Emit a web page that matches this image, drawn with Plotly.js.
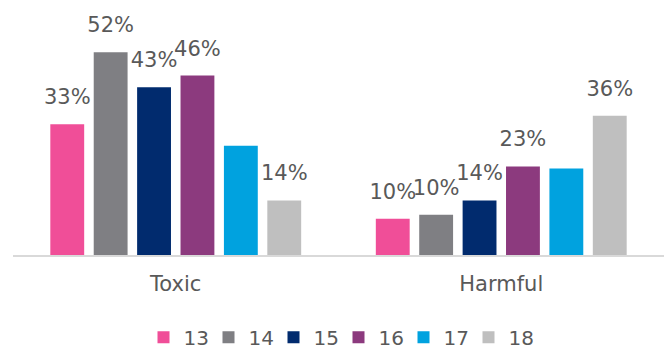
<!DOCTYPE html>
<html>
<head>
<meta charset="utf-8">
<script src="https://cdn.plot.ly/plotly-3.0.1.min.js"></script>
<style>html,body{margin:0;padding:0;background:#fff;}#chart{width:667px;height:349px;}</style>
</head>
<body>
<div id="chart"></div>
<script>
const categories = ["Toxic", "Harmful"];
const seriesNames = ["13", "14", "15", "16", "17", "18"];
const seriesColors = ["#F04E98", "#7F7F83", "#012B6E", "#8C3A7E", "#00A2DF", "#BFBFBF"];
const values13 = [33.5, 9.3];
const values14 = [52, 10.3];
const values15 = [43, 14];
const values16 = [46, 22.7];
const values17 = [28, 22.2];
const values18 = [14, 35.7];
const labels13 = ["33%", "10%"];
const labels14 = ["52%", "10%"];
const labels15 = ["43%", "14%"];
const labels16 = ["46%", "23%"];
const labels17 = ["", ""];
const labels18 = ["14%", "36%"];

const allValues = [values13, values14, values15, values16, values17, values18];
const allLabels = [labels13, labels14, labels15, labels16, labels17, labels18];
const textColor = "#595959";
const fontFam = "DejaVu Sans, Verdana, sans-serif";

const traces = [];
allValues.forEach((vals, i) => {
  traces.push({
    type: "bar",
    x: categories,
    y: vals,
    name: seriesNames[i],
    offsetgroup: String(i),
    marker: {color: seriesColors[i]},
    hoverinfo: "skip"
  });
});
allValues.forEach((vals, i) => {
  traces.push({
    type: "scatter",
    mode: "markers+text",
    x: categories,
    y: vals,
    offsetgroup: String(i),
    text: allLabels[i],
    textposition: "top center",
    textfont: {family: fontFam, size: 21, color: textColor},
    marker: {size: 22, opacity: 0},
    cliponaxis: false,
    showlegend: false,
    hoverinfo: "skip"
  });
});

const layout = {
  width: 667,
  height: 349,
  margin: {l: 13, r: 3, t: 21, b: 93.5, autoexpand: false},
  paper_bgcolor: "#ffffff",
  plot_bgcolor: "#ffffff",
  barmode: "group",
  bargap: 0.2,
  bargroupgap: 0.22,
  scattermode: "group",
  scattergap: 0.2,
  showlegend: true,
  legend: {
    orientation: "h",
    x: 0.5, xanchor: "center",
    y: -0.352, yanchor: "middle",
    entrywidth: 20,
    font: {family: fontFam, size: 20, color: textColor},
    traceorder: "normal"
  },
  xaxis: {
    type: "category",
    showline: true,
    linecolor: "#D9D9D9",
    linewidth: 1.5,
    showgrid: false,
    zeroline: false,
    ticks: "",
    ticklabelstandoff: 9,
    tickfont: {family: fontFam, size: 21, color: textColor},
    fixedrange: true
  },
  yaxis: {
    range: [0, 60],
    visible: false,
    showgrid: false,
    zeroline: false,
    fixedrange: true
  }
};

Plotly.newPlot("chart", traces, layout, {displayModeBar: false, staticPlot: true});
</script>
</body>
</html>
